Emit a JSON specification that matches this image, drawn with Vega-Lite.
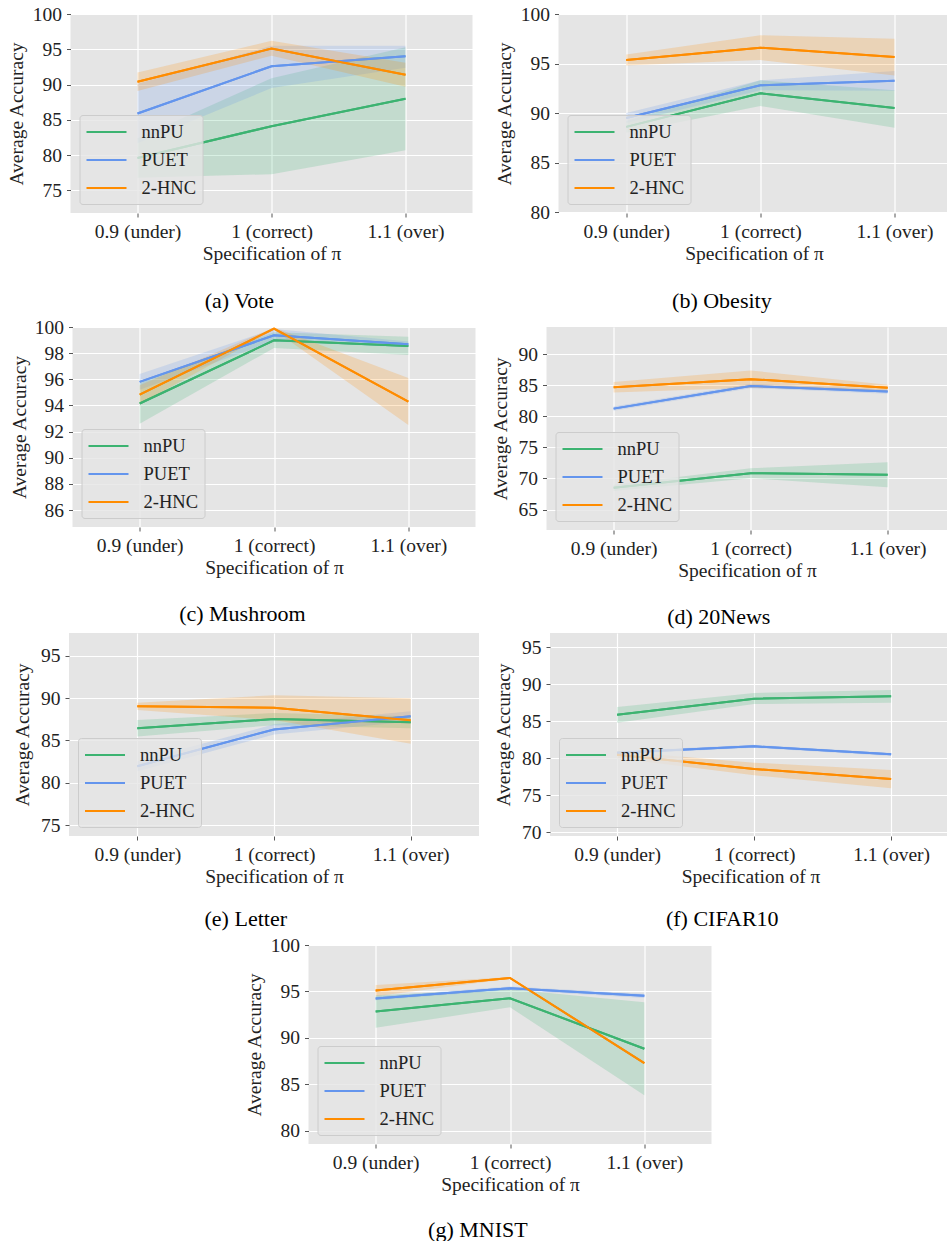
{
  "$schema": "https://vega.github.io/schema/vega-lite/v6.json",
  "padding": {"left": 6, "top": 4, "right": 0, "bottom": 0},
  "background": "#FFFFFF",
  "datasets": {
    "acc": [
      {"d": "Vote", "m": "nnPU", "pi": 0.9, "mean": 79.6, "lo": 76.8, "hi": 82.4},
      {"d": "Vote", "m": "nnPU", "pi": 1.0, "mean": 84.1, "lo": 77.3, "hi": 90.9},
      {"d": "Vote", "m": "nnPU", "pi": 1.1, "mean": 88.0, "lo": 80.7, "hi": 95.3},
      {"d": "Vote", "m": "PUET", "pi": 0.9, "mean": 85.9, "lo": 81.7, "hi": 90.1},
      {"d": "Vote", "m": "PUET", "pi": 1.0, "mean": 92.6, "lo": 89.5, "hi": 95.5},
      {"d": "Vote", "m": "PUET", "pi": 1.1, "mean": 94.0, "lo": 92.4, "hi": 95.5},
      {"d": "Vote", "m": "2-HNC", "pi": 0.9, "mean": 90.4, "lo": 89.1, "hi": 91.7},
      {"d": "Vote", "m": "2-HNC", "pi": 1.0, "mean": 95.1, "lo": 94.1, "hi": 96.2},
      {"d": "Vote", "m": "2-HNC", "pi": 1.1, "mean": 91.4, "lo": 89.7, "hi": 93.1},

      {"d": "Obesity", "m": "nnPU", "pi": 0.9, "mean": 88.6, "lo": 88.0, "hi": 89.2},
      {"d": "Obesity", "m": "nnPU", "pi": 1.0, "mean": 92.0, "lo": 90.7, "hi": 93.3},
      {"d": "Obesity", "m": "nnPU", "pi": 1.1, "mean": 90.5, "lo": 88.5, "hi": 92.3},
      {"d": "Obesity", "m": "PUET", "pi": 0.9, "mean": 89.5, "lo": 89.0, "hi": 90.0},
      {"d": "Obesity", "m": "PUET", "pi": 1.0, "mean": 92.8, "lo": 92.3, "hi": 93.3},
      {"d": "Obesity", "m": "PUET", "pi": 1.1, "mean": 93.25, "lo": 92.25, "hi": 94.25},
      {"d": "Obesity", "m": "2-HNC", "pi": 0.9, "mean": 95.35, "lo": 94.8, "hi": 95.9},
      {"d": "Obesity", "m": "2-HNC", "pi": 1.0, "mean": 96.6, "lo": 95.35, "hi": 97.85},
      {"d": "Obesity", "m": "2-HNC", "pi": 1.1, "mean": 95.65, "lo": 93.8, "hi": 97.5},

      {"d": "Mushroom", "m": "nnPU", "pi": 0.9, "mean": 94.15, "lo": 92.6, "hi": 95.7},
      {"d": "Mushroom", "m": "nnPU", "pi": 1.0, "mean": 98.98, "lo": 98.4, "hi": 99.6},
      {"d": "Mushroom", "m": "nnPU", "pi": 1.1, "mean": 98.55, "lo": 97.85, "hi": 99.25},
      {"d": "Mushroom", "m": "PUET", "pi": 0.9, "mean": 95.8, "lo": 95.2, "hi": 96.4},
      {"d": "Mushroom", "m": "PUET", "pi": 1.0, "mean": 99.36, "lo": 98.9, "hi": 99.85},
      {"d": "Mushroom", "m": "PUET", "pi": 1.1, "mean": 98.68, "lo": 98.45, "hi": 98.9},
      {"d": "Mushroom", "m": "2-HNC", "pi": 0.9, "mean": 94.83, "lo": 94.1, "hi": 95.55},
      {"d": "Mushroom", "m": "2-HNC", "pi": 1.0, "mean": 99.87, "lo": 99.77, "hi": 99.97},
      {"d": "Mushroom", "m": "2-HNC", "pi": 1.1, "mean": 94.3, "lo": 92.5, "hi": 96.1},

      {"d": "20News", "m": "nnPU", "pi": 0.9, "mean": 68.5, "lo": 68.0, "hi": 69.0},
      {"d": "20News", "m": "nnPU", "pi": 1.0, "mean": 70.85, "lo": 70.05, "hi": 71.65},
      {"d": "20News", "m": "nnPU", "pi": 1.1, "mean": 70.6, "lo": 68.6, "hi": 72.6},
      {"d": "20News", "m": "PUET", "pi": 0.9, "mean": 81.25, "lo": 80.9, "hi": 81.6},
      {"d": "20News", "m": "PUET", "pi": 1.0, "mean": 84.9, "lo": 84.55, "hi": 85.25},
      {"d": "20News", "m": "PUET", "pi": 1.1, "mean": 84.0, "lo": 83.65, "hi": 84.35},
      {"d": "20News", "m": "2-HNC", "pi": 0.9, "mean": 84.7, "lo": 83.85, "hi": 85.55},
      {"d": "20News", "m": "2-HNC", "pi": 1.0, "mean": 86.0, "lo": 84.6, "hi": 87.4},
      {"d": "20News", "m": "2-HNC", "pi": 1.1, "mean": 84.6, "lo": 84.1, "hi": 85.1},

      {"d": "Letter", "m": "nnPU", "pi": 0.9, "mean": 86.43, "lo": 85.45, "hi": 87.4},
      {"d": "Letter", "m": "nnPU", "pi": 1.0, "mean": 87.53, "lo": 86.8, "hi": 88.25},
      {"d": "Letter", "m": "nnPU", "pi": 1.1, "mean": 87.14, "lo": 86.45, "hi": 87.85},
      {"d": "Letter", "m": "PUET", "pi": 0.9, "mean": 81.95, "lo": 81.35, "hi": 82.55},
      {"d": "Letter", "m": "PUET", "pi": 1.0, "mean": 86.3, "lo": 85.7, "hi": 86.9},
      {"d": "Letter", "m": "PUET", "pi": 1.1, "mean": 87.85, "lo": 87.25, "hi": 88.45},
      {"d": "Letter", "m": "2-HNC", "pi": 0.9, "mean": 89.03, "lo": 88.6, "hi": 89.45},
      {"d": "Letter", "m": "2-HNC", "pi": 1.0, "mean": 88.87, "lo": 87.4, "hi": 90.35},
      {"d": "Letter", "m": "2-HNC", "pi": 1.1, "mean": 87.38, "lo": 84.6, "hi": 90.0},

      {"d": "CIFAR10", "m": "nnPU", "pi": 0.9, "mean": 85.87, "lo": 84.8, "hi": 86.9},
      {"d": "CIFAR10", "m": "nnPU", "pi": 1.0, "mean": 88.03, "lo": 87.3, "hi": 88.8},
      {"d": "CIFAR10", "m": "nnPU", "pi": 1.1, "mean": 88.35, "lo": 87.5, "hi": 89.2},
      {"d": "CIFAR10", "m": "PUET", "pi": 0.9, "mean": 80.75, "lo": 80.55, "hi": 80.95},
      {"d": "CIFAR10", "m": "PUET", "pi": 1.0, "mean": 81.6, "lo": 81.4, "hi": 81.8},
      {"d": "CIFAR10", "m": "PUET", "pi": 1.1, "mean": 80.52, "lo": 80.3, "hi": 80.7},
      {"d": "CIFAR10", "m": "2-HNC", "pi": 0.9, "mean": 80.48, "lo": 80.0, "hi": 80.95},
      {"d": "CIFAR10", "m": "2-HNC", "pi": 1.0, "mean": 78.54, "lo": 77.7, "hi": 79.4},
      {"d": "CIFAR10", "m": "2-HNC", "pi": 1.1, "mean": 77.19, "lo": 75.95, "hi": 78.4},

      {"d": "MNIST", "m": "nnPU", "pi": 0.9, "mean": 92.84, "lo": 91.1, "hi": 94.6},
      {"d": "MNIST", "m": "nnPU", "pi": 1.0, "mean": 94.28, "lo": 93.3, "hi": 95.25},
      {"d": "MNIST", "m": "nnPU", "pi": 1.1, "mean": 88.84, "lo": 83.85, "hi": 93.85},
      {"d": "MNIST", "m": "PUET", "pi": 0.9, "mean": 94.24, "lo": 94.05, "hi": 94.45},
      {"d": "MNIST", "m": "PUET", "pi": 1.0, "mean": 95.35, "lo": 95.15, "hi": 95.55},
      {"d": "MNIST", "m": "PUET", "pi": 1.1, "mean": 94.53, "lo": 94.3, "hi": 94.75},
      {"d": "MNIST", "m": "2-HNC", "pi": 0.9, "mean": 95.1, "lo": 94.5, "hi": 95.7},
      {"d": "MNIST", "m": "2-HNC", "pi": 1.0, "mean": 96.46, "lo": 96.36, "hi": 96.56},
      {"d": "MNIST", "m": "2-HNC", "pi": 1.1, "mean": 87.3, "lo": 87.2, "hi": 87.4}
    ]
  },
  "data": {"name": "acc"},
  "vconcat": [
    {
      "hconcat": [
        {
          "width": 402, "height": 199,
          "title": {"text": "(a) Vote", "offset": 28},
          "transform": [{"filter": "datum.d === 'Vote'"}],
          "encoding": {"x": {"field": "pi", "type": "quantitative", "scale": {"domain": [0.85, 1.15], "nice": false, "zero": false}, "axis": {"values": [0.9, 1, 1.1], "labelExpr": "datum.value < 0.95 ? '0.9 (under)' : datum.value < 1.05 ? '1 (correct)' : '1.1 (over)'", "title": "Specification of π"}}},
          "layer": [
            {"mark": {"type": "line", "strokeWidth": 2}, "encoding": {"y": {"field": "mean", "type": "quantitative", "title": "Average Accuracy", "scale": {"domain": [71.8, 100], "nice": false, "zero": false}, "axis": {"values": [75, 80, 85, 90, 95, 100], "titlePadding": 6}}, "color": {"field": "m", "type": "nominal", "scale": {"domain": ["nnPU", "PUET", "2-HNC"], "range": ["#3CB371", "#6495ED", "#FF8C00"]}, "legend": {"title": null, "labelFont": "Liberation Serif", "labelFontSize": 18.5}}}},
            {"mark": {"type": "area", "fillOpacity": 0.2}, "encoding": {"y": {"field": "lo", "type": "quantitative", "title": "Average Accuracy"}, "y2": {"field": "hi"}, "color": {"field": "m", "type": "nominal", "legend": null}}},
            {"mark": {"type": "line", "strokeWidth": 2}, "encoding": {"y": {"field": "mean", "type": "quantitative", "title": "Average Accuracy"}, "color": {"field": "m", "type": "nominal", "legend": null}}}
          ]
        },
        {
          "width": 391, "height": 199,
          "title": {"text": "(b) Obesity", "offset": 28},
          "transform": [{"filter": "datum.d === 'Obesity'"}],
          "encoding": {"x": {"field": "pi", "type": "quantitative", "scale": {"domain": [0.8495, 1.141], "nice": false, "zero": false}, "axis": {"values": [0.9, 1, 1.1], "labelExpr": "datum.value < 0.95 ? '0.9 (under)' : datum.value < 1.05 ? '1 (correct)' : '1.1 (over)'", "title": "Specification of π"}}},
          "layer": [
            {"mark": {"type": "line", "strokeWidth": 2}, "encoding": {"y": {"field": "mean", "type": "quantitative", "title": "Average Accuracy", "scale": {"domain": [79.9, 100], "nice": false, "zero": false}, "axis": {"values": [80, 85, 90, 95, 100], "titlePadding": 6}}, "color": {"field": "m", "type": "nominal", "scale": {"domain": ["nnPU", "PUET", "2-HNC"], "range": ["#3CB371", "#6495ED", "#FF8C00"]}, "legend": {"title": null, "labelFont": "Liberation Serif", "labelFontSize": 18.5}}}},
            {"mark": {"type": "area", "fillOpacity": 0.2}, "encoding": {"y": {"field": "lo", "type": "quantitative", "title": "Average Accuracy"}, "y2": {"field": "hi"}, "color": {"field": "m", "type": "nominal", "legend": null}}},
            {"mark": {"type": "line", "strokeWidth": 2}, "encoding": {"y": {"field": "mean", "type": "quantitative", "title": "Average Accuracy"}, "color": {"field": "m", "type": "nominal", "legend": null}}}
          ]
        }
      ],
      "spacing": 21,
      "resolve": {"scale": {"color": "independent"}, "legend": {"color": "independent"}}
    },
    {
      "hconcat": [
        {
          "width": 403, "height": 200,
          "title": {"text": "(c) Mushroom", "offset": 27},
          "transform": [{"filter": "datum.d === 'Mushroom'"}],
          "encoding": {"x": {"field": "pi", "type": "quantitative", "scale": {"domain": [0.85, 1.15], "nice": false, "zero": false}, "axis": {"values": [0.9, 1, 1.1], "labelExpr": "datum.value < 0.95 ? '0.9 (under)' : datum.value < 1.05 ? '1 (correct)' : '1.1 (over)'", "title": "Specification of π"}}},
          "layer": [
            {"mark": {"type": "line", "strokeWidth": 2}, "encoding": {"y": {"field": "mean", "type": "quantitative", "title": "Average Accuracy", "scale": {"domain": [84.7, 100], "nice": false, "zero": false}, "axis": {"values": [86, 88, 90, 92, 94, 96, 98, 100], "titlePadding": 5}}, "color": {"field": "m", "type": "nominal", "scale": {"domain": ["nnPU", "PUET", "2-HNC"], "range": ["#3CB371", "#6495ED", "#FF8C00"]}, "legend": {"title": null, "labelFont": "Liberation Serif", "labelFontSize": 18.5}}}},
            {"mark": {"type": "area", "fillOpacity": 0.2}, "encoding": {"y": {"field": "lo", "type": "quantitative", "title": "Average Accuracy"}, "y2": {"field": "hi"}, "color": {"field": "m", "type": "nominal", "legend": null}}},
            {"mark": {"type": "line", "strokeWidth": 2}, "encoding": {"y": {"field": "mean", "type": "quantitative", "title": "Average Accuracy"}, "color": {"field": "m", "type": "nominal", "legend": null}}}
          ]
        },
        {
          "width": 401, "height": 203,
          "title": {"text": "(d) 20News", "offset": 27},
          "transform": [{"filter": "datum.d === '20News'"}],
          "encoding": {"x": {"field": "pi", "type": "quantitative", "scale": {"domain": [0.851, 1.1437], "nice": false, "zero": false}, "axis": {"values": [0.9, 1, 1.1], "labelExpr": "datum.value < 0.95 ? '0.9 (under)' : datum.value < 1.05 ? '1 (correct)' : '1.1 (over)'", "title": "Specification of π"}}},
          "layer": [
            {"mark": {"type": "line", "strokeWidth": 2}, "encoding": {"y": {"field": "mean", "type": "quantitative", "title": "Average Accuracy", "scale": {"domain": [61.7, 94.4], "nice": false, "zero": false}, "axis": {"values": [65, 70, 75, 80, 85, 90], "titlePadding": 8}}, "color": {"field": "m", "type": "nominal", "scale": {"domain": ["nnPU", "PUET", "2-HNC"], "range": ["#3CB371", "#6495ED", "#FF8C00"]}, "legend": {"title": null, "labelFont": "Liberation Serif", "labelFontSize": 18.5}}}},
            {"mark": {"type": "area", "fillOpacity": 0.2}, "encoding": {"y": {"field": "lo", "type": "quantitative", "title": "Average Accuracy"}, "y2": {"field": "hi"}, "color": {"field": "m", "type": "nominal", "legend": null}}},
            {"mark": {"type": "line", "strokeWidth": 2}, "encoding": {"y": {"field": "mean", "type": "quantitative", "title": "Average Accuracy"}, "color": {"field": "m", "type": "nominal", "legend": null}}}
          ]
        }
      ],
      "spacing": 14,
      "resolve": {"scale": {"color": "independent"}, "legend": {"color": "independent"}}
    },
    {
      "hconcat": [
        {
          "width": 410, "height": 203,
          "title": {"text": "(e) Letter", "offset": 23},
          "transform": [{"filter": "datum.d === 'Letter'"}],
          "encoding": {"x": {"field": "pi", "type": "quantitative", "scale": {"domain": [0.85, 1.15], "nice": false, "zero": false}, "axis": {"values": [0.9, 1, 1.1], "labelExpr": "datum.value < 0.95 ? '0.9 (under)' : datum.value < 1.05 ? '1 (correct)' : '1.1 (over)'", "title": "Specification of π"}}},
          "layer": [
            {"mark": {"type": "line", "strokeWidth": 2}, "encoding": {"y": {"field": "mean", "type": "quantitative", "title": "Average Accuracy", "scale": {"domain": [73.7, 97.7], "nice": false, "zero": false}, "axis": {"values": [75, 80, 85, 90, 95], "titlePadding": 8}}, "color": {"field": "m", "type": "nominal", "scale": {"domain": ["nnPU", "PUET", "2-HNC"], "range": ["#3CB371", "#6495ED", "#FF8C00"]}, "legend": {"title": null, "labelFont": "Liberation Serif", "labelFontSize": 18.5}}}},
            {"mark": {"type": "area", "fillOpacity": 0.2}, "encoding": {"y": {"field": "lo", "type": "quantitative", "title": "Average Accuracy"}, "y2": {"field": "hi"}, "color": {"field": "m", "type": "nominal", "legend": null}}},
            {"mark": {"type": "line", "strokeWidth": 2}, "encoding": {"y": {"field": "mean", "type": "quantitative", "title": "Average Accuracy"}, "color": {"field": "m", "type": "nominal", "legend": null}}}
          ]
        },
        {
          "width": 401, "height": 203,
          "title": {"text": "(f) CIFAR10", "offset": 23},
          "transform": [{"filter": "datum.d === 'CIFAR10'"}],
          "encoding": {"x": {"field": "pi", "type": "quantitative", "scale": {"domain": [0.851, 1.1437], "nice": false, "zero": false}, "axis": {"values": [0.9, 1, 1.1], "labelExpr": "datum.value < 0.95 ? '0.9 (under)' : datum.value < 1.05 ? '1 (correct)' : '1.1 (over)'", "title": "Specification of π"}}},
          "layer": [
            {"mark": {"type": "line", "strokeWidth": 2}, "encoding": {"y": {"field": "mean", "type": "quantitative", "title": "Average Accuracy", "scale": {"domain": [69.5, 96.9], "nice": false, "zero": false}, "axis": {"values": [70, 75, 80, 85, 90, 95], "titlePadding": 8}}, "color": {"field": "m", "type": "nominal", "scale": {"domain": ["nnPU", "PUET", "2-HNC"], "range": ["#3CB371", "#6495ED", "#FF8C00"]}, "legend": {"title": null, "labelFont": "Liberation Serif", "labelFontSize": 18.5}}}},
            {"mark": {"type": "area", "fillOpacity": 0.2}, "encoding": {"y": {"field": "lo", "type": "quantitative", "title": "Average Accuracy"}, "y2": {"field": "hi"}, "color": {"field": "m", "type": "nominal", "legend": null}}},
            {"mark": {"type": "line", "strokeWidth": 2}, "encoding": {"y": {"field": "mean", "type": "quantitative", "title": "Average Accuracy"}, "color": {"field": "m", "type": "nominal", "legend": null}}}
          ]
        }
      ],
      "spacing": 14,
      "resolve": {"scale": {"color": "independent"}, "legend": {"color": "independent"}}
    },
    {
      "width": 403, "height": 199,
      "title": {"text": "(g) MNIST", "offset": 26},
      "transform": [{"filter": "datum.d === 'MNIST'"}],
      "encoding": {"x": {"field": "pi", "type": "quantitative", "scale": {"domain": [0.85, 1.15], "nice": false, "zero": false}, "axis": {"values": [0.9, 1, 1.1], "labelExpr": "datum.value < 0.95 ? '0.9 (under)' : datum.value < 1.05 ? '1 (correct)' : '1.1 (over)'", "title": "Specification of π"}}},
      "layer": [
        {"mark": {"type": "line", "strokeWidth": 2}, "encoding": {"y": {"field": "mean", "type": "quantitative", "title": "Average Accuracy", "scale": {"domain": [78.6, 100], "nice": false, "zero": false}, "axis": {"values": [80, 85, 90, 95, 100], "titlePadding": 6}}, "color": {"field": "m", "type": "nominal", "scale": {"domain": ["nnPU", "PUET", "2-HNC"], "range": ["#3CB371", "#6495ED", "#FF8C00"]}, "legend": {"title": null, "labelFont": "Liberation Serif", "labelFontSize": 18.5}}}},
        {"mark": {"type": "area", "fillOpacity": 0.2}, "encoding": {"y": {"field": "lo", "type": "quantitative", "title": "Average Accuracy"}, "y2": {"field": "hi"}, "color": {"field": "m", "type": "nominal", "legend": null}}},
        {"mark": {"type": "line", "strokeWidth": 2}, "encoding": {"y": {"field": "mean", "type": "quantitative", "title": "Average Accuracy"}, "color": {"field": "m", "type": "nominal", "legend": null}}}
      ]
    }
  ],
  "spacing": 5,
  "center": true,
  "resolve": {"scale": {"color": "independent"}, "legend": {"color": "independent"}},
  "config": {
    "font": "Liberation Serif",
    "view": {"fill": "#E5E5E5", "stroke": null},
    "axis": {
      "domain": false,
      "grid": true,
      "gridColor": "#FFFFFF",
      "gridWidth": 1.2,
      "ticks": true,
      "tickColor": "#555555",
      "tickSize": 4,
      "tickCount": 20,
      "labelPadding": 5,
      "labelOverlap": false,
      "labelFlush": false,
      "labelFont": "Liberation Serif",
      "labelFontSize": 19.5,
      "labelColor": "#222222",
      "titleFont": "Liberation Serif",
      "titleFontSize": 19.5,
      "titleFontWeight": "normal",
      "titleColor": "#222222"
    },
    "axisX": {"titlePadding": 4},
    "legend": {
      "orient": "bottom-left",
      "offset": 9,
      "labelFont": "Liberation Serif",
      "labelFontSize": 18.5,
      "labelColor": "#222222",
      "symbolType": "M-1,0H3",
      "symbolSize": 400,
      "symbolStrokeWidth": 2,
      "labelOffset": 34,
      "rowPadding": 7,
      "padding": 6,
      "fillColor": "rgba(229,229,229,0.8)",
      "strokeColor": "#CCCCCC",
      "cornerRadius": 3
    },
    "title": {
      "orient": "bottom",
      "anchor": "middle",
      "frame": "bounds",
      "font": "Liberation Serif",
      "fontSize": 22,
      "fontWeight": "normal",
      "color": "#000000",
      "offset": 26
    }
  }
}
